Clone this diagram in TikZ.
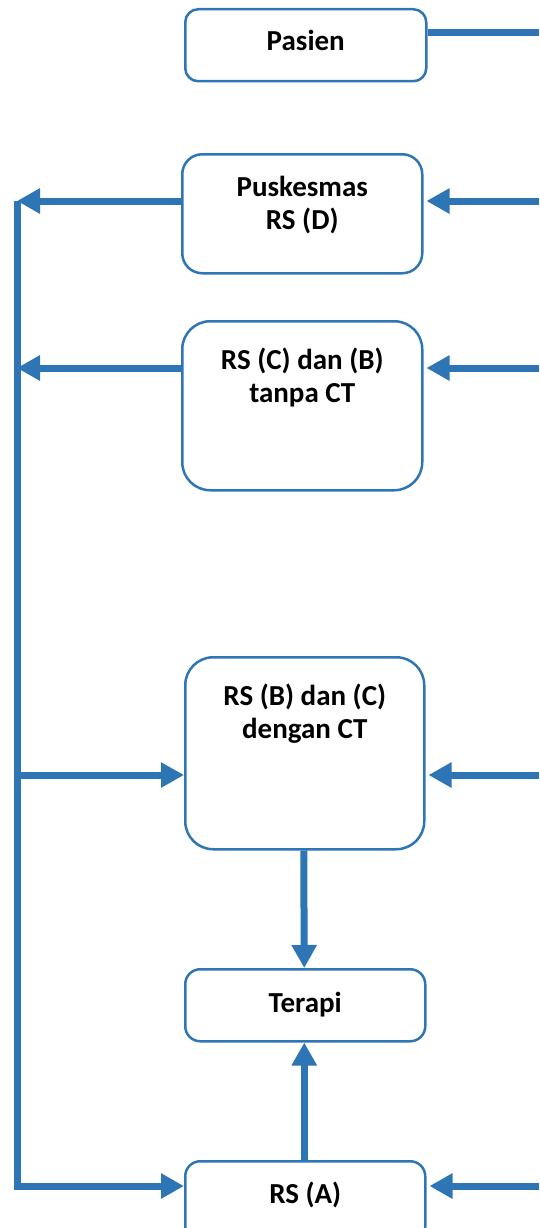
\documentclass[tikz,border=0pt]{standalone}
\usepackage{fontspec}
\setmainfont{Carlito}
\usetikzlibrary{arrows.meta}
\definecolor{ablue}{RGB}{46,117,182}
\tikzset{
  box/.style={draw=ablue, line width=2.5pt, fill=white, inner sep=0pt, anchor=north west},
  txt/.style={anchor=base, align=center, inner sep=0pt, font=\fontsize{29}{33}\selectfont\bfseries},
  conn/.style={draw=ablue, line width=7pt},
  arr/.style={conn, -{Triangle[length=23pt,width=24pt]}}
}
\begin{document}
\begin{tikzpicture}[x=1pt,y=-1pt]
\useasboundingbox (0,0) rectangle (539,1228);
\clip (0,0) rectangle (539,1228);
% boxes
\node[box, rounded corners=13pt, minimum width=241pt, minimum height=72pt,
  label={[txt,yshift=-43pt]north:Pasien}] (pasien) at (184,8) {};
\node[box, rounded corners=20pt, minimum width=240pt, minimum height=119pt,
  label={[txt,yshift=-76pt]north:Puskesmas\\RS (D)}] (pusk) at (181,153) {};
\node[box, rounded corners=28pt, minimum width=240pt, minimum height=169pt,
  label={[txt,yshift=-82pt]north:RS (C) dan (B)\\tanpa CT}] (tct) at (181,320) {};
\node[box, rounded corners=28pt, minimum width=239pt, minimum height=192pt,
  label={[txt,yshift=-82pt]north:RS (B) dan (C)\\dengan CT}] (dct) at (184,656) {};
\node[box, rounded corners=15pt, minimum width=240pt, minimum height=72pt,
  label={[txt,yshift=-44pt]north:Terapi}] (terapi) at (184,968) {};
\node[box, rounded corners=15pt, minimum width=240pt, minimum height=80pt,
  label={[txt,yshift=-43pt]north:RS (A)}] (rsa) at (184,1160) {};
% coordinates
\coordinate (P0) at (539,33);
\coordinate (R1) at (539,201);
\coordinate (R2) at (539,368);
\coordinate (R3) at (539,775);
\coordinate (R4) at (539,1186);
\coordinate (L1) at (17,201);
\coordinate (L2) at (17,368);
\coordinate (L3) at (17,775);
\coordinate (L4) at (17,1186);
% connectors
\draw[conn] (pasien.east |- P0) -- (P0);
\draw[arr] (R1) -- ([xshift=3pt]pusk.east |- R1);
\draw[arr] (R2) -- ([xshift=3pt]tct.east |- R2);
\draw[arr] (R3) -- ([xshift=3pt]dct.east |- R3);
\draw[arr] (R4) -- ([xshift=3pt]rsa.east |- R4);
\draw[arr] (pusk.west |- L1) -- (L1);
\draw[arr] (tct.west |- L2) -- (L2);
\draw[conn, -{Triangle[length=23pt,width=24pt]}, line join=miter] (L1) -- (L4) -- (rsa.west |- L4);
\draw[arr] (L3) -- (dct.west |- L3);
\draw[arr] ([xshift=-1pt]dct.south) -- ([xshift=-1pt]terapi.north);
\draw[arr] ([xshift=-1pt]rsa.north) -- ([xshift=-1pt]terapi.south);
\end{tikzpicture}
\end{document}
